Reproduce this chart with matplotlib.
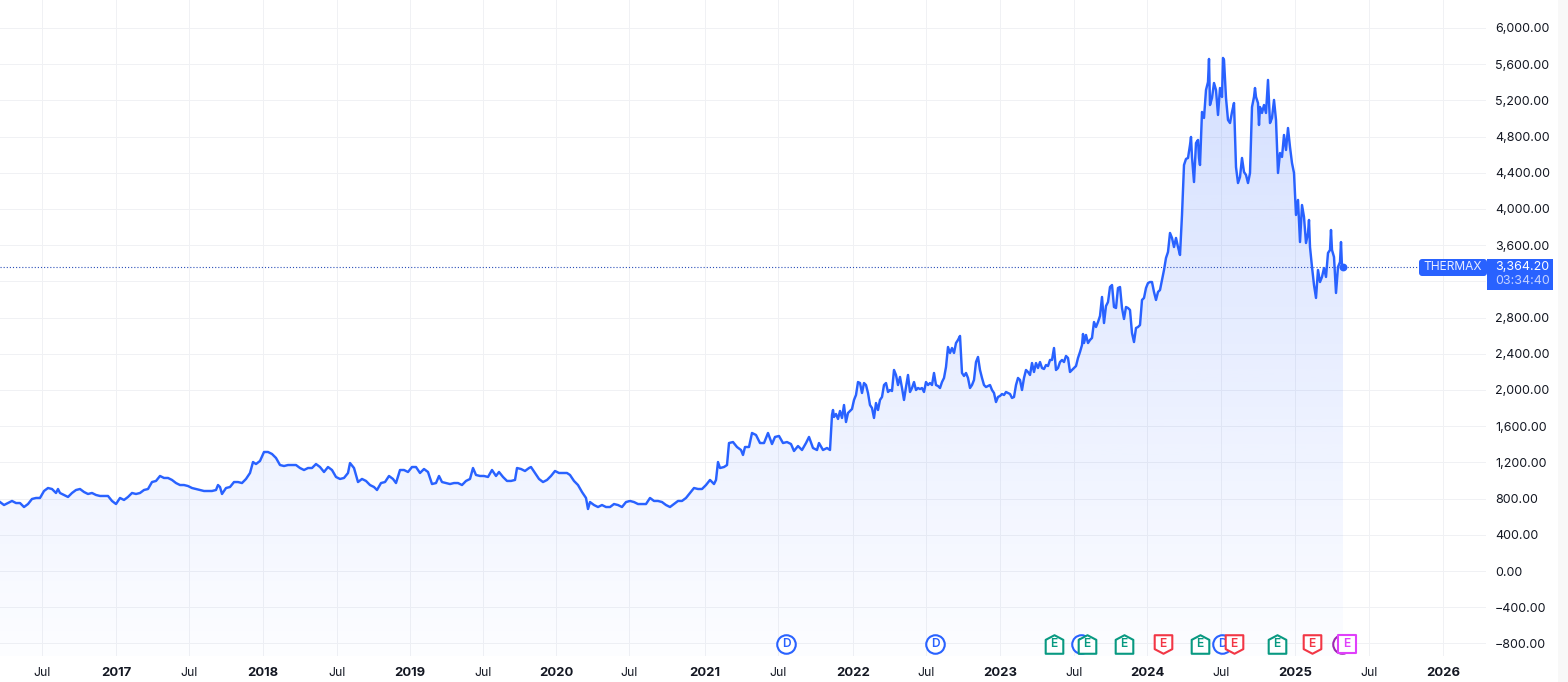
import numpy as np
import matplotlib
matplotlib.use('Agg')
import matplotlib.pyplot as plt
from matplotlib.path import Path
from matplotlib.patches import FancyBboxPatch, Rectangle
from matplotlib.transforms import blended_transform_factory

plt.rcParams['font.family'] = ['Inter', 'DejaVu Sans']

# x is the session position on the ordinal time axis
sessions_flat = [
    0, 4, 8, 12, 16, 20, 24, 28, 32, 36, 40, 44, 48, 52, 56, 58, 60, 64, 68, 72, 76, 80, 84, 88, 92, 96, 100, 104, 108,
    112, 116, 120, 124, 128, 132, 136, 140, 144, 148, 152, 156, 160, 164, 168, 172, 176, 180, 184, 188, 192, 196, 200,
    204, 208, 212, 216, 218, 220, 222, 226, 230, 234, 238, 242, 246, 250, 253, 256, 260, 264, 268, 272, 276, 280, 284,
    288, 292, 296, 300, 304, 308, 312, 316, 320, 324, 328, 332, 336, 340, 344, 348, 350, 354, 358, 362, 366, 370, 374,
    377, 381, 385, 389, 393, 396, 400, 404, 408, 412, 416, 420, 424, 428, 432, 436, 439, 442, 446, 450, 454, 458, 462,
    466, 470, 473, 476, 480, 484, 488, 492, 496, 499, 503, 507, 511, 515, 517, 521, 525, 529, 531, 535, 539, 543, 547,
    551, 555, 559, 563, 567, 570, 574, 578, 582, 586, 588, 590, 594, 598, 602, 606, 610, 614, 618, 622, 626, 630, 634,
    638, 642, 646, 650, 654, 658, 662, 666, 670, 674, 678, 682, 686, 690, 694, 698, 702, 706, 710, 714, 716, 718, 720,
    724, 727, 729, 733, 737, 741, 743, 745, 749, 752, 756, 760, 764, 768, 772, 775, 779, 783, 787, 791, 794, 798, 802,
    806, 809, 813, 817, 819, 823, 827, 830,
]
close_flat = [
    762, 729, 751, 774, 751, 751, 707, 740, 796, 807, 807, 884, 917, 906, 862, 906, 862, 840, 818, 862, 895, 906, 873, 851, 862, 840, 829, 829, 829,
    774, 740, 807, 785, 818, 862, 851, 862, 895, 906, 983, 995, 1050, 1028, 1028, 1006, 972, 950, 950, 939, 917, 906, 895,
    884, 884, 884, 895, 950, 928, 851, 917, 928, 983, 983, 972, 1017, 1083, 1204, 1182, 1216, 1315, 1315, 1293, 1249, 1171, 1160,
    1171, 1171, 1171, 1138, 1116, 1138, 1138, 1182, 1149, 1094, 1149, 1116, 1039, 1017, 1028, 1083, 1193, 1138, 983, 1017, 995, 950, 928,
    895, 972, 983, 1050, 1017, 972, 1116, 1116, 1094, 1149, 1149, 1083, 1127, 1094, 961, 972, 1050, 983, 972, 961, 972, 972, 950,
    995, 1017, 1138, 1061, 1050, 1050, 1039, 1116, 1050, 1094, 1039, 995, 995, 1006, 1138, 1127, 1105, 1138, 1149, 1083, 1017, 983, 1006,
    1050, 1105, 1083, 1083, 1083, 1061, 995, 950, 873, 807, 685, 762, 729, 707, 729, 707, 707, 740, 729, 707, 762, 774, 762,
    740, 740, 740, 807, 774, 774, 762, 729, 707, 740, 774, 774, 807, 862, 917, 906, 906, 950, 1006, 961, 1006, 1204, 1138,
    1149, 1171, 1414, 1425, 1370, 1337, 1282, 1370, 1370, 1525, 1503, 1414, 1414, 1525, 1403, 1481, 1492, 1414, 1425, 1403, 1326, 1381, 1337,
    1414, 1481, 1359, 1337, 1414, 1337, 1359, 1337,
]
sessions_rally = [
    832, 833, 834, 836, 838, 840, 842, 844, 846, 848, 850, 852, 854, 856, 858, 860, 862, 864, 866, 868, 870, 872, 874, 876, 878, 880,
    882, 884, 886, 888, 890, 892, 894, 896, 898, 900, 902, 904, 906, 908, 910, 912, 914, 916, 918, 920, 922, 924, 926, 928, 930, 932,
    934, 936, 938, 940, 942, 944, 946, 948, 950, 952, 954, 956, 958, 960, 962, 964, 966, 968, 970, 972, 974, 976, 978, 980, 982, 984,
    986, 988, 990, 992, 994, 996, 998, 1000, 1002, 1004, 1006, 1008, 1010, 1012, 1014, 1016, 1018, 1020, 1022, 1024, 1026, 1028, 1030,
    1032, 1034, 1036, 1038, 1040, 1042, 1044, 1046, 1048, 1050, 1052, 1054, 1056, 1058, 1060, 1062, 1064, 1066, 1068, 1070, 1072, 1074,
    1076, 1078, 1080, 1082, 1083, 1084, 1086, 1088, 1090, 1092, 1094, 1096, 1098, 1100, 1102, 1104, 1106, 1108, 1110, 1112, 1114, 1116,
    1118, 1120, 1122, 1124, 1126, 1128, 1130, 1132, 1134, 1136, 1138, 1140, 1142, 1144, 1146, 1148, 1150, 1152, 1154, 1156, 1158, 1160,
    1162, 1164, 1166, 1168, 1170, 1172, 1174, 1176, 1178, 1180,
]
close_rally = [
    1724, 1779, 1702, 1735, 1680, 1768, 1691, 1834, 1646, 1746, 1768, 1790, 1890, 1945, 2088, 2077, 1967, 2077, 2055, 1967, 1834, 1801, 1691, 1856, 1779, 1890,
    1923, 2055, 2077, 1978, 2000, 1989, 2221, 2166, 2055, 2144, 2022, 1890, 2033, 2166, 1978, 2022, 2088, 2000, 2022, 2011, 2022, 1978, 2088, 2055, 2077, 2055,
    2188, 2055, 2044, 2022, 2088, 2133, 2254, 2475, 2409, 2464, 2409, 2519, 2553, 2597, 2188, 2155, 2188, 2133, 2022, 2055, 2111, 2309, 2365, 2221, 2133, 2055,
    2033, 2044, 2055, 2000, 1967, 1867, 1923, 1934, 1956, 1945, 1978, 1967, 1956, 1912, 1923, 2055, 2133, 2111, 2000, 2133, 2221, 2199, 2166,
    2298, 2199, 2298, 2243, 2309, 2243, 2232, 2276, 2265, 2332, 2332, 2464, 2221, 2243, 2309, 2332, 2309, 2376, 2354, 2199, 2221, 2243,
    2265, 2354, 2420, 2497, 2619, 2519, 2608, 2519, 2553, 2575, 2751, 2696, 2751, 2818, 3028, 2740, 2928, 2972, 3138, 3160, 2917, 2906,
    3127, 3138, 2906, 2785, 2917, 2906, 2884, 2630, 2530, 2685, 2696, 2718, 2995, 3017, 3127, 3182, 3193, 3193, 3083, 2995, 3083, 3105,
    3216, 3326, 3459, 3525, 3735, 3680, 3580, 3680, 3580, 3492,
]
sessions_peak = [
    1182, 1184, 1186, 1188, 1190, 1191, 1192, 1194, 1196, 1198, 1199, 1200, 1202, 1204, 1206, 1208, 1209, 1210, 1212, 1214, 1216, 1218, 1220, 1222, 1223, 1224,
    1226, 1228, 1230, 1232, 1234, 1236, 1238, 1240, 1242, 1244, 1246, 1248, 1250, 1252, 1254, 1255, 1256, 1258, 1259, 1260, 1262, 1264, 1266, 1268, 1270, 1272,
    1274, 1276, 1278, 1280, 1282, 1284, 1286, 1288, 1290, 1292, 1294, 1296, 1298, 1300, 1302, 1304, 1306, 1308, 1309, 1310, 1312, 1314, 1316, 1318, 1320, 1322,
    1324, 1326, 1328, 1330, 1331, 1332, 1334, 1336, 1338, 1340, 1341, 1342, 1343,
]
close_peak = [
    3934, 4486, 4553, 4564, 4707, 4796, 4575, 4298, 4729, 4763, 4564, 4486, 5072, 5006, 5315, 5403, 5658, 5149, 5227, 5392, 5315, 5039, 5337, 5238, 5669, 5647,
    5227, 4984, 4950, 5072, 5171, 4464, 4287, 4354, 4564, 4409, 4376, 4287, 4398, 5127, 5238, 5337, 5238, 5171, 4928, 5127, 5061, 5149, 5061, 5426, 4950, 5006,
    5205, 4984, 4398, 4619, 4575, 4818, 4652, 4895, 4685, 4508, 4398, 3934, 4100, 3635, 4044, 3912, 3624, 3735, 3879, 3580, 3359, 3160, 3017, 3326, 3193, 3249,
    3348, 3249, 3514, 3547, 3768, 3547, 3470, 3072, 3359, 3414, 3635, 3359, 3364.2,
]

tick_sessions = [42, 116, 189, 263, 337, 410, 483, 556, 629, 705, 778, 853, 926, 1000, 1074, 1147, 1221, 1295, 1369, 1443]
tick_labels = ['Jul', '2017', 'Jul', '2018', 'Jul', '2019', 'Jul', '2020', 'Jul', '2021', 'Jul', '2022', 'Jul', '2023', 'Jul',
               '2024', 'Jul', '2025', 'Jul', '2026']
price_ticks = list(range(-800, 6001, 400))

dividend_sessions = [786, 935, 1081, 1222]
split_sessions = [1342]
earnings_beat = [1054, 1087, 1124, 1200, 1277]
earnings_miss = [1163, 1234, 1312]
earnings_next = [1347]

BLUE = '#2962ff'
W, H = 1568, 682
PRICE_PER_PX = 6000 / 543

x = np.array(sessions_flat + sessions_rally + sessions_peak, dtype=float)
y = np.array(close_flat + close_rally + close_peak, dtype=float)

fig = plt.figure(figsize=(W / 100, H / 100), dpi=100)
ax = fig.add_axes([0, 26 / H, 1486 / W, 656 / H])
ax.set_xlim(0, 1486)
ax.set_ylim(-85 * PRICE_PER_PX, 571 * PRICE_PER_PX)
for side in ax.spines.values():
    side.set_visible(False)

ax.set_axisbelow(True)
ax.grid(True, color='#f0f1f4', linewidth=0.72)
ax.set_xticks(tick_sessions)
ax.set_xticklabels(tick_labels)
ax.set_yticks(price_ticks)
ax.set_yticklabels([f'{v:,.2f}'.replace('-', '\u2212') for v in price_ticks])
ax.yaxis.tick_right()
ax.tick_params(axis='y', length=0, pad=6.5, labelsize=9.0, labelcolor='#131722')
ax.tick_params(axis='x', length=0, pad=8.2, labelsize=8.8, labelcolor='#131722')
for lab in ax.get_xticklabels():
    if lab.get_text() != 'Jul':
        lab.set_fontweight('bold')
        lab.set_fontsize(9.4)

# area under the line, fading downwards
area = ax.fill_between(x, y, ax.get_ylim()[0], color='none', linewidth=0)
grad = np.zeros((256, 1, 4))
grad[:, 0, :3] = matplotlib.colors.to_rgb(BLUE)
grad[:, 0, 3] = np.linspace(0.2, 0.012, 256)
img = ax.imshow(grad, aspect='auto', origin='upper', zorder=1.5, interpolation='bilinear',
                extent=(x[0], x[-1], ax.get_ylim()[0], y.max()))
img.set_clip_path(area.get_paths()[0], ax.transData)
ax.set_xlim(0, 1486)
ax.set_ylim(-85 * PRICE_PER_PX, 571 * PRICE_PER_PX)

last = y[-1]
ax.plot([0, 1419], [last, last], color='#2b4fb8', linestyle=(0, (1, 1.8)), linewidth=0.8, zorder=2)
ax.plot(x, y, color=BLUE, linewidth=1.75, zorder=3, solid_joinstyle='round')
ax.plot(x[-1], last, 'o', color=BLUE, markersize=4.6, zorder=4)

# event badges along the bottom of the pane
trans = blended_transform_factory(ax.transData, ax.transAxes)
badge_y = (656 - 644) / 656
house = Path([(-0.95, -1), (-0.95, 0.5), (0, 1), (0.95, 0.5), (0.95, -1), (-0.95, -1)], closed=True)
shield = Path([(-0.95, 1), (-0.95, -0.5), (0, -1), (0.95, -0.5), (0.95, 1), (-0.95, 1)], closed=True)
square = Path([(-1, -1), (-1, 1), (1, 1), (1, -1), (-1, -1)], closed=True)


def badges(xs, marker, colour, letter, z, size=178):
    ax.scatter(xs, [badge_y] * len(xs), marker=marker, s=size, facecolor='white', edgecolor=colour,
               linewidth=1.5, transform=trans, zorder=z, clip_on=False)
    for pos in xs:
        ax.text(pos, badge_y, letter, color=colour, fontsize=8.6, fontweight='semibold', ha='center', va='center',
                transform=trans, zorder=z + 0.1)


badges(dividend_sessions, 'o', BLUE, 'D', 5)
badges(split_sessions, 'o', '#9c27b0', '', 5)
badges(earnings_beat, house, '#089981', 'E', 6)
badges(earnings_miss, shield, '#f23645', 'E', 6)
badges(earnings_next, square, '#e040fb', 'E', 6, size=150)

# right hand pane: strip and last price tags
fig.add_artist(Rectangle((1558 / W, 0), 10 / W, 1, transform=fig.transFigure, facecolor='#f8f8f8', edgecolor='none'))
fig.add_artist(FancyBboxPatch((1419 / W, 1 - 276 / H), 68 / W, 17 / H, transform=fig.transFigure, facecolor=BLUE,
                              edgecolor='none', boxstyle='round,pad=0,rounding_size=0.002', mutation_aspect=2.3))
fig.add_artist(Rectangle((1487 / W, 1 - 290 / H), 66 / W, 31 / H, transform=fig.transFigure, facecolor=BLUE,
                         edgecolor='none'))
fig.text(1453 / W, 1 - 267.5 / H, 'THERMAX', color='#e8edff', fontsize=8.6, ha='center', va='center')
fig.text(1495 / W, 1 - 267 / H, f'{last:,.2f}', color='white', fontsize=9.0, ha='left', va='center')
fig.text(1495 / W, 1 - 281 / H, '03:34:40', color='#c4d2ff', fontsize=9.0, ha='left', va='center')

plt.savefig('out.png', dpi=100)
